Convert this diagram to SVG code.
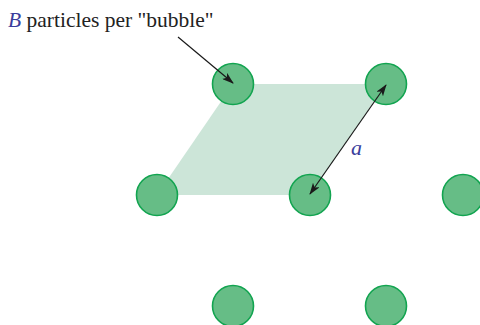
<svg xmlns="http://www.w3.org/2000/svg" width="480" height="325" viewBox="0 0 480 325">
<defs>
<marker id="ah" viewBox="0 0 12 8" refX="11" refY="4" markerWidth="12" markerHeight="8" markerUnits="userSpaceOnUse" orient="auto-start-reverse">
<path d="M0,0 L12,4 L0,8 L3,4 Z" fill="#1a1a1a"/>
</marker>
<style>
.b{fill:#66bd86;stroke:#12a450;stroke-width:1.6}
.c{stroke:#1a1a1a;stroke-width:1.2;fill:none}
</style>
</defs>
<polygon points="233,84 386,84 310,195 157,195" fill="#cce5d8"/>
<g id="n1"><circle class="b" cx="233" cy="84" r="20.5"/></g>
<g id="n2"><circle class="b" cx="386" cy="84" r="20.5"/></g>
<g id="n3"><circle class="b" cx="157" cy="195" r="20.5"/></g>
<g id="n4"><circle class="b" cx="310" cy="195" r="20.5"/></g>
<g id="n5"><circle class="b" cx="463" cy="195" r="20.5"/></g>
<g id="n6"><circle class="b" cx="233" cy="306" r="20.5"/></g>
<g id="n7"><circle class="b" cx="386" cy="306" r="20.5"/></g>
<g id="connectors">
<line class="c" x1="178" y1="37" x2="233" y2="83" marker-end="url(#ah)"/>
<line class="c" x1="310" y1="194" x2="386" y2="85" marker-start="url(#ah)" marker-end="url(#ah)"/>
</g>
<text x="8" y="27" font-family="'Liberation Serif', 'Times New Roman', serif" font-size="21.5" fill="#222"><tspan font-style="italic" fill="#3a3d9c">B</tspan> particles per "bubble"</text>
<text x="351" y="155" font-family="'Liberation Serif', 'Times New Roman', serif" font-size="22" font-style="italic" fill="#3a3d9c">a</text>
</svg>
